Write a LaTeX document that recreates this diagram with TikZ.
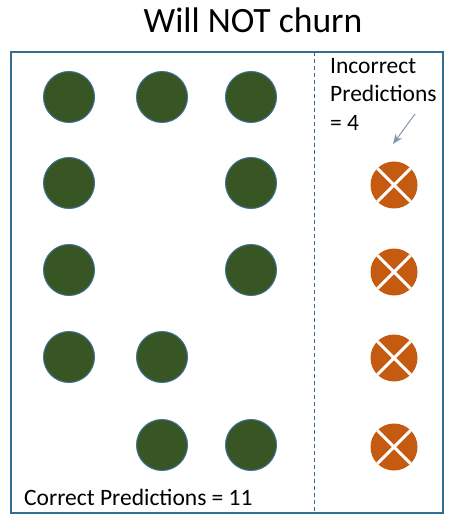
\documentclass[tikz,border=0pt]{standalone}
\usepackage{fontspec}
\setmainfont{Carlito}
\usetikzlibrary{arrows.meta}
\definecolor{frameblue}{RGB}{49,110,145}
\definecolor{dotgreen}{RGB}{55,86,35}
\definecolor{dotedge}{RGB}{65,113,156}
\definecolor{wrongorange}{RGB}{197,90,17}
\definecolor{arrowgray}{RGB}{132,151,176}
\tikzset{
  good/.style={circle,fill=dotgreen,draw=dotedge,line width=1pt,minimum size=51pt,inner sep=0pt},
  bad/.style={circle,fill=wrongorange,minimum size=47pt,inner sep=0pt,path picture={
     \draw[white,line width=3pt] (path picture bounding box.north west)--(path picture bounding box.south east);
     \draw[white,line width=3pt] (path picture bounding box.north east)--(path picture bounding box.south west);}},
  lbl/.style={font=\fontsize{23.5pt}{28.5pt}\selectfont,inner sep=0pt}
}
\begin{document}
\begin{tikzpicture}[x=1pt,y=-1pt]
\useasboundingbox (0,0) rectangle (450,526);
\node[font=\fontsize{35.6pt}{40pt}\selectfont,inner sep=0pt,anchor=base] (title) at (253,33) {Will NOT churn};
\draw[frameblue,line width=1.6pt] (11,52) rectangle (443,513);
\coordinate (dtop) at (314,52);
\coordinate (dbot) at (314,513);
\draw[frameblue,dashed,line width=0.8pt,dash pattern=on 4pt off 3pt] (dtop) -- (dbot);
% green dots
\node[good] (g11) at (69,97) {};
\node[good] (g12) at (162,97) {};
\node[good] (g13) at (251,97) {};
\node[good] (g21) at (69,183) {};
\node[good] (g23) at (251,183) {};
\node[good] (g31) at (69,270) {};
\node[good] (g33) at (251,270) {};
\node[good] (g41) at (69,357) {};
\node[good] (g42) at (162,357) {};
\node[good] (g52) at (162,445) {};
\node[good] (g53) at (251,445) {};
% orange dots
\node[bad] (b1) at (394,185) {};
\node[bad] (b2) at (394,272) {};
\node[bad] (b3) at (394,358) {};
\node[bad] (b4) at (394,447) {};
% labels
\node[lbl,anchor=north west,align=left] (inc) at (330,58) {Incorrect\\Predictions\\= 4};
\node[lbl,anchor=base west] (cor) at (24,505) {Correct Predictions = 11};
\coordinate (atail) at (415,114);
\coordinate (ahead) at (393,144);
\draw[arrowgray,line width=1pt,-{Stealth[length=10pt,width=8pt]}] (atail) -- (ahead);
\end{tikzpicture}
\end{document}
